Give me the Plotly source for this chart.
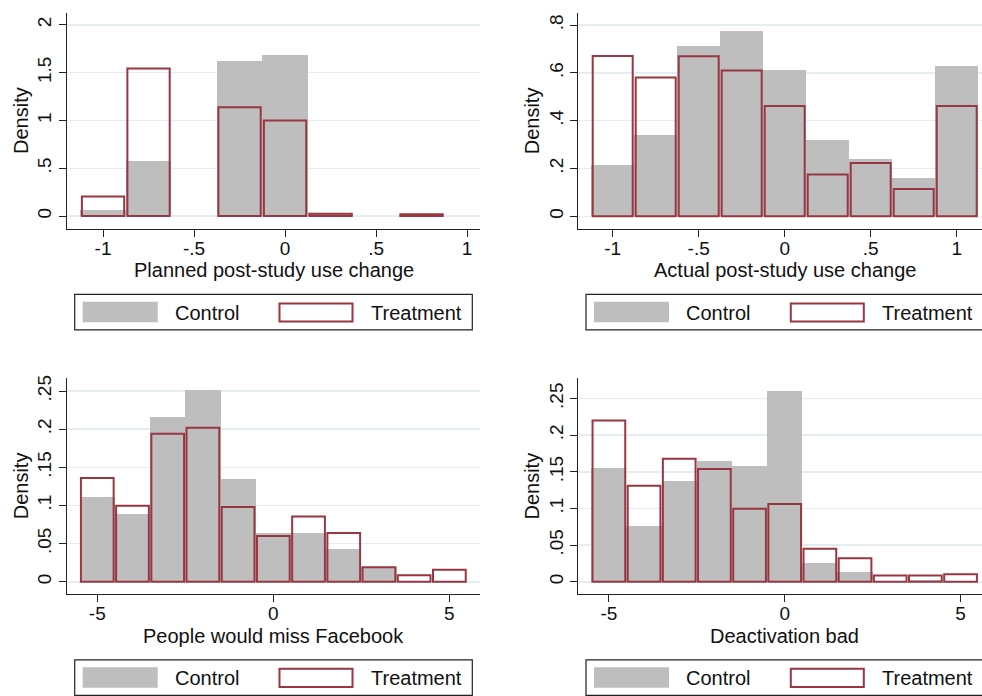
import plotly.graph_objects as go

W, H = 982, 696
FONT = "Liberation Sans"
GRAY = "#BEBEBE"
MAROON = "#983642"
GRID = "#E6EDF0"

# ---------------- data ----------------
# Panel 1: Planned post-study use change (bin width 0.25)
p1_centers = [-1.0, -0.75, -0.5, -0.25, 0.0, 0.25, 0.5, 0.75]
p1_control = [0.065, 0.58, 0.0, 1.62, 1.69, 0.02, 0.0, 0.01]
p1_treatment = [0.205, 1.545, 0.0, 1.14, 1.0, 0.025, 0.0, 0.02]
p1_xticks = [-1, -0.5, 0, 0.5, 1]
p1_xlabels = ["-1", "-.5", "0", ".5", "1"]
p1_yticks = [0, 0.5, 1, 1.5, 2]
p1_ylabels = ["0", ".5", "1", "1.5", "2"]

# Panel 2: Actual post-study use change (bin width 0.25)
p2_centers = [-1.0, -0.75, -0.5, -0.25, 0.0, 0.25, 0.5, 0.75, 1.0]
p2_control = [0.213, 0.34, 0.713, 0.777, 0.613, 0.319, 0.239, 0.16, 0.628]
p2_treatment = [0.671, 0.581, 0.67, 0.61, 0.462, 0.175, 0.223, 0.114, 0.462]
p2_xticks = [-1, -0.5, 0, 0.5, 1]
p2_xlabels = ["-1", "-.5", "0", ".5", "1"]
p2_yticks = [0, 0.2, 0.4, 0.6, 0.8]
p2_ylabels = ["0", ".2", ".4", ".6", ".8"]

# Panel 3: People would miss Facebook (bin width 1)
p3_centers = [-5, -4, -3, -2, -1, 0, 1, 2, 3, 4, 5]
p3_control = [0.111, 0.089, 0.216, 0.251, 0.135, 0.064, 0.064, 0.0435, 0.02, 0.0, 0.0]
p3_treatment = [0.136, 0.0996, 0.194, 0.202, 0.098, 0.06, 0.0857, 0.064, 0.019, 0.0087, 0.0157]
p3_xticks = [-5, 0, 5]
p3_xlabels = ["-5", "0", "5"]
p3_yticks = [0, 0.05, 0.1, 0.15, 0.2, 0.25]
p3_ylabels = ["0", ".05", ".1", ".15", ".2", ".25"]

# Panel 4: Deactivation bad (bin width 1)
p4_centers = [-5, -4, -3, -2, -1, 0, 1, 2, 3, 4, 5]
p4_control = [0.155, 0.0765, 0.138, 0.165, 0.158, 0.261, 0.025, 0.0127, 0.0, 0.002, 0.0]
p4_treatment = [0.22, 0.131, 0.168, 0.154, 0.0996, 0.106, 0.045, 0.032, 0.0086, 0.0086, 0.0104]
p4_xticks = [-5, 0, 5]
p4_xlabels = ["-5", "0", "5"]
p4_yticks = [0, 0.05, 0.1, 0.15, 0.2, 0.25]
p4_ylabels = ["0", ".05", ".1", ".15", ".2", ".25"]

x_titles = ["Planned post-study use change", "Actual post-study use change",
            "People would miss Facebook", "Deactivation bad"]
y_title = "Density"
legend_labels = ["Control", "Treatment"]

# ---------------- layout geometry (pixels) ----------------
panels = [
    dict(c=p1_centers, ctl=p1_control, trt=p1_treatment, bw=0.25,
         xt=p1_xticks, xl=p1_xlabels, yt=p1_yticks, yl=p1_ylabels,
         box=(67, 480, 10, 227), xr=[-1.198, 1.071], yr=[-0.135, 2.125], xc=273.5),
    dict(c=p2_centers, ctl=p2_control, trt=p2_treatment, bw=0.25,
         xt=p2_xticks, xl=p2_xlabels, yt=p2_yticks, yl=p2_ylabels,
         box=(578.3, 982, 10, 227), xr=[-1.2, 1.147], yr=[-0.053, 0.851], xc=784.8),
    dict(c=p3_centers, ctl=p3_control, trt=p3_treatment, bw=1.0,
         xt=p3_xticks, xl=p3_xlabels, yt=p3_yticks, yl=p3_ylabels,
         box=(67, 480, 376.7, 594), xr=[-5.86, 5.87], yr=[-0.0166, 0.267], xc=273.5),
    dict(c=p4_centers, ctl=p4_control, trt=p4_treatment, bw=1.0,
         xt=p4_xticks, xl=p4_xlabels, yt=p4_yticks, yl=p4_ylabels,
         box=(578.3, 982, 376.7, 594), xr=[-5.87, 5.61], yr=[-0.0173, 0.278], xc=784.8),
]


def px(x):
    return x / W


def py(y):
    return 1 - y / H


fig = go.Figure()
shapes = []
annotations = []
layout = {}

for i, p in enumerate(panels):
    n = "" if i == 0 else str(i + 1)
    xa, ya = "x" + n, "y" + n
    L, R, T, B = p["box"]

    ctl_x = [c for c, v in zip(p["c"], p["ctl"]) if v > 0]
    ctl_y = [v for v in p["ctl"] if v > 0]
    trt_x = [c for c, v in zip(p["c"], p["trt"]) if v > 0]
    trt_y = [v for v in p["trt"] if v > 0]

    fig.add_trace(go.Bar(x=ctl_x, y=ctl_y, width=p["bw"], xaxis=xa, yaxis=ya,
                         marker=dict(color=GRAY, line=dict(width=0)),
                         showlegend=False, name=legend_labels[0]))
    fig.add_trace(go.Bar(x=trt_x, y=trt_y, width=p["bw"] * 0.93, xaxis=xa, yaxis=ya,
                         marker=dict(color="rgba(0,0,0,0)",
                                     line=dict(width=2, color=MAROON)),
                         showlegend=False, name=legend_labels[1]))

    tickfont = dict(family=FONT, size=19, color="#111")
    layout["xaxis" + n] = dict(
        domain=[px(L), min(px(R), 1.0)], range=p["xr"], anchor=ya,
        showline=True, linecolor="#222", linewidth=1,
        ticks="outside", ticklen=7, tickcolor="#222", tickwidth=1,
        tickvals=p["xt"], ticktext=p["xl"], tickfont=tickfont,
        ticklabelstandoff=-5,
        showgrid=False, zeroline=False, fixedrange=True,
    )
    layout["yaxis" + n] = dict(
        domain=[py(B), py(T)], range=p["yr"], anchor=xa,
        showline=True, linecolor="#222", linewidth=1,
        ticks="outside", ticklen=7, tickcolor="#222", tickwidth=1,
        tickvals=p["yt"], ticktext=p["yl"], tickfont=tickfont, tickangle=-90,
        showgrid=True, gridcolor=GRID, gridwidth=1.5, zeroline=False,
        fixedrange=True,
    )

    # axis titles
    annotations.append(dict(text=x_titles[i], x=px(p["xc"]), y=py(B + 41.3),
                            xref="paper", yref="paper", showarrow=False,
                            xanchor="center", yanchor="middle",
                            font=dict(family=FONT, size=20, color="#111")))
    annotations.append(dict(text=y_title, x=px(L - 46), y=py((T + B) / 2),
                            xref="paper", yref="paper", showarrow=False,
                            textangle=-90, xanchor="center", yanchor="middle",
                            font=dict(family=FONT, size=20, color="#111")))

    # legend box
    shapes.append(dict(type="rect", xref="paper", yref="paper",
                       x0=px(L + 7.7), x1=px(L + 405.3), y0=py(B + 65.7), y1=py(B + 101.3),
                       line=dict(color="#222", width=1.2), fillcolor="white"))
    shapes.append(dict(type="rect", xref="paper", yref="paper",
                       x0=px(L + 15.7), x1=px(L + 90.7), y0=py(B + 73), y1=py(B + 93.7),
                       line=dict(width=0), fillcolor=GRAY))
    shapes.append(dict(type="rect", xref="paper", yref="paper",
                       x0=px(L + 212.5), x1=px(L + 285.5), y0=py(B + 74.7), y1=py(B + 93),
                       line=dict(width=2, color=MAROON), fillcolor="white"))
    annotations.append(dict(text=legend_labels[0], x=px(L + 106), y=py(B + 84),
                            xref="paper", yref="paper", showarrow=False,
                            xanchor="left", yanchor="middle",
                            font=dict(family=FONT, size=20, color="#111")))
    annotations.append(dict(text=legend_labels[1], x=px(L + 302), y=py(B + 84),
                            xref="paper", yref="paper", showarrow=False,
                            xanchor="left", yanchor="middle",
                            font=dict(family=FONT, size=20, color="#111")))

fig.update_layout(
    width=W, height=H, margin=dict(l=0, r=0, t=0, b=0),
    paper_bgcolor="white", plot_bgcolor="white",
    barmode="overlay", bargap=0, showlegend=False, hovermode=False,
    shapes=shapes, annotations=annotations,
    font=dict(family=FONT, color="#111"),
    **layout,
)

fig.write_html("out.html",
               config={"displayModeBar": False, "staticPlot": True},
               post_script="document.body.style.margin='0';document.body.style.overflow='hidden';")
